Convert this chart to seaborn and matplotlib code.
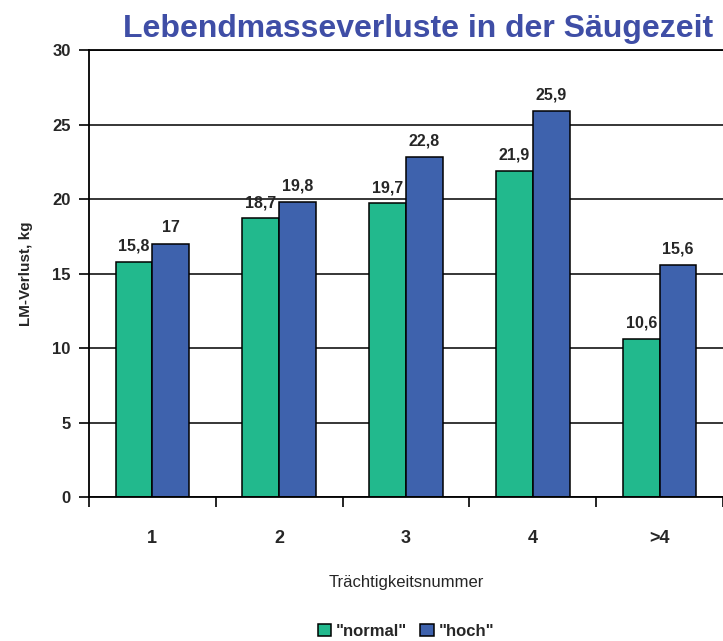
import numpy as np
import pandas as pd
import matplotlib
matplotlib.use("Agg")
import matplotlib.pyplot as plt
import seaborn as sns

categories = ["1", "2", "3", "4", ">4"]
normal_values = [15.8, 18.7, 19.7, 21.9, 10.6]
hoch_values = [17, 19.8, 22.8, 25.9, 15.6]
series_names = ['"normal"', '"hoch"']
y_ticks = [0, 5, 10, 15, 20, 25, 30]

df = pd.DataFrame({
    "Trächtigkeitsnummer": categories * 2,
    "LM-Verlust": normal_values + hoch_values,
    "Gruppe": [series_names[0]] * len(categories) + [series_names[1]] * len(categories),
})

sns.set_style("white")
plt.rcParams["font.family"] = ["Liberation Sans", "DejaVu Sans"]

fig = plt.figure(figsize=(7.23, 6.41), dpi=100)
ax = fig.add_axes([0.123, 0.2246, 0.877, 0.6974])

palette = ["#22B98D", "#3E62AD"]
sns.barplot(data=df, x="Trächtigkeitsnummer", y="LM-Verlust", hue="Gruppe",
            palette=palette, width=0.58, edgecolor="black", linewidth=1.1,
            saturation=1, ax=ax)

def fmt(v):
    s = f"{v:g}"
    return s.replace(".", ",")

for cont in ax.containers:
    labels = [fmt(b.get_height()) for b in cont]
    ax.bar_label(cont, labels=labels, padding=6, fontsize=11.5, fontweight="bold")

ax.set_ylim(0, 30)
ax.set_xlim(-0.5, len(categories) - 0.5)
ax.set_yticks(y_ticks)
ax.set_yticklabels([str(t) for t in y_ticks], fontsize=12, fontweight="bold")
ax.yaxis.grid(True, color="black", linewidth=1.1)
ax.set_axisbelow(True)

# category labels centred, ticks on the boundaries
ax.set_xticks(range(len(categories)))
ax.set_xticklabels(categories, fontsize=13, fontweight="bold")
ax.tick_params(axis="x", which="major", bottom=True, length=0, pad=24)
ax.set_xticks(np.arange(-0.5, len(categories), 1.0), minor=True)
ax.tick_params(axis="x", which="minor", bottom=True, length=7, width=1.2,
               color="black", direction="out")
ax.tick_params(axis="y", length=7, width=1.2, color="black", direction="out", left=True, pad=6)

ax.spines["right"].set_visible(False)
for side in ["left", "bottom", "top"]:
    ax.spines[side].set_color("black")
    ax.spines[side].set_linewidth(1.3)

ax.set_xlabel("Trächtigkeitsnummer", fontsize=12, labelpad=20)
ax.set_ylabel("LM-Verlust, kg", fontsize=11, fontweight="bold", labelpad=14)

fig.text(0.578, 0.955, "Lebendmasseverluste in der Säugezeit", ha="center", va="center",
         fontsize=23, fontweight="bold", color="#3F4EA6")

handles, lbls = ax.get_legend_handles_labels()
ax.legend(handles, lbls, loc="center", bbox_to_anchor=(0.5, -0.3), ncol=2,
          frameon=False, handlelength=0.8, handleheight=0.8,
          handletextpad=0.3, columnspacing=0.8, prop={"weight": "bold", "size": 12})

fig.savefig("out.png", dpi=100)
